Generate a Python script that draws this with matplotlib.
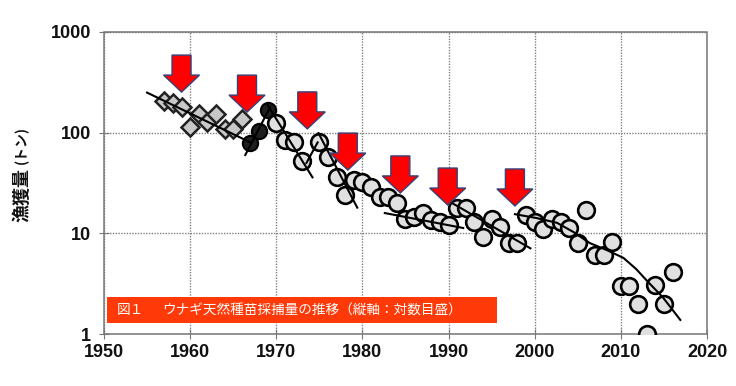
import numpy as np
import matplotlib.pyplot as plt
from matplotlib.patches import Polygon, Rectangle
from matplotlib.transforms import ScaledTranslation

# catch data (tonnes, log scale)
diamond_years = [1957, 1958, 1959, 1960, 1961, 1962, 1963, 1964, 1965, 1966]
diamond_vals = [205, 195, 180, 114, 155, 127, 155, 108, 109, 136]

filled_years = [1967, 1968, 1969]
filled_vals = [79, 104, 168]

circle_years = [1970, 1971, 1972, 1973, 1975, 1976, 1977, 1978, 1979, 1980,
                1981, 1982, 1983, 1984, 1985, 1986, 1987, 1988, 1989, 1990,
                1991, 1992, 1993, 1994, 1995, 1996, 1997, 1998, 1999, 2000,
                2001, 2002, 2003, 2004, 2005, 2006, 2007, 2008, 2009, 2010,
                2011, 2012, 2013, 2014, 2015, 2016]
circle_vals = [124, 84, 81, 52, 80, 57, 36, 24, 34, 32,
               29, 23, 23, 20, 14, 14.5, 16, 13.5, 13, 12,
               18, 18, 13, 9.2, 14, 11.5, 8, 8, 15.2, 13,
               11, 14, 13, 11.3, 8, 17, 6.1, 6.1, 8.2, 3,
               3, 2, 1.0, 3.1, 2, 4.1]

# trend lines (year, value)
trend_lines = [
    ([1955, 1967], [250, 80]),
    ([1966.4, 1969.3], [60, 180]),
    ([1969, 1974.2], [188, 36]),
    ([1973.5, 1974.8], [50, 80]),
    ([1974.9, 1979.4], [99, 18]),
    ([1982.6, 1991.7], [15.9, 11.3]),
    ([1990.4, 1999.5], [20, 7.1]),
    ([1997.7, 2000.2, 2002.6, 2004.5, 2006.4, 2008.4, 2010.3, 2011.8, 2013.0, 2014.9, 2016.9],
     [15.5, 14.2, 12.7, 10.3, 8.0, 6.8, 5.7, 4.4, 3.4, 2.3, 1.38]),
]

# red arrows: year and value at the arrow tip
arrow_years = [1959.0, 1966.6, 1973.6, 1978.3, 1984.4, 1989.9, 1997.7]
arrow_tips = [253, 160, 109, 42.5, 25.2, 19.1, 18.7]

xticks = [1950, 1960, 1970, 1980, 1990, 2000, 2010, 2020]
yticks = [1, 10, 100, 1000]
ytick_labels = ['1', '10', '100', '1000']

fig = plt.figure(figsize=(7.36, 3.86), dpi=100)
ax = fig.add_axes([0.1413, 0.1347, 0.8193, 0.7824])
ax.set_yscale('log')
ax.set_xlim(1950, 2020)
ax.set_ylim(1, 1000)

gridstyle = dict(color='#808080', linestyle=(0, (1, 1)), linewidth=1.0)
ax.grid(True, which='major', **gridstyle)
ax.grid(False, which='minor')
for s in ax.spines.values():
    s.set_color('#777777')
    s.set_linestyle((0, (1, 1)))
    s.set_linewidth(1.1)

ax.set_xticks(xticks)
ax.set_xticklabels([str(x) for x in xticks])
ax.set_yticks(yticks)
ax.set_yticklabels(ytick_labels)
ax.minorticks_off()
ax.tick_params(direction='inout', length=7, color='#777777', labelsize=13,
               labelcolor='#111111')
ax.tick_params(axis='y', pad=6)
for lab in ax.get_xticklabels() + ax.get_yticklabels():
    lab.set_family('Liberation Sans')
    lab.set_fontweight('bold')

# markers
ax.plot(diamond_years, diamond_vals, 'D', ms=9.5, mfc='#c8c8c8', mec='#222222',
        mew=1.8, zorder=3, linestyle='none')
ax.plot(filled_years, filled_vals, 'o', ms=11, mfc='#1e1e1e', mec='#000000',
        mew=1.5, zorder=3, linestyle='none')
ax.plot(circle_years, circle_vals, 'o', ms=12, mfc='#e0e0e0', mec='#000000',
        mew=1.9, zorder=3, linestyle='none')

for xs, ys in trend_lines:
    ax.plot(xs, ys, '-', color='black', linewidth=1.5, zorder=4)

# arrows, shape in pixels relative to the tip
shape = np.array([(0, 0), (-18, 17), (-9.5, 17), (-9.5, 37),
                  (9.5, 37), (9.5, 17), (18, 17)]) / 100.0
for yr, tip in zip(arrow_years, arrow_tips):
    trans = fig.dpi_scale_trans + ScaledTranslation(yr, tip, ax.transData)
    ax.add_patch(Polygon(shape, closed=True, facecolor='#ff0000',
                         edgecolor='#34427a', linewidth=1.0,
                         transform=trans, zorder=6))

# caption box
ax.add_patch(Rectangle((0.005, 0.036), 0.647, 0.087, transform=ax.transAxes,
                       facecolor='#ff3a08', edgecolor='none', zorder=5))
ax.text(0.021, 0.079, '図１', transform=ax.transAxes, color='white',
        fontsize=9.8, family=['Noto Sans CJK JP', 'DejaVu Sans'],
        va='center', ha='left', zorder=6)
ax.text(0.096, 0.079, 'ウナギ天然種苗採捕量の推移（縦軸：対数目盛）',
        transform=ax.transAxes, color='white', fontsize=9.8,
        family=['Noto Sans CJK JP', 'DejaVu Sans'], va='center', ha='left',
        zorder=6)

# y axis label: main part and small unit above it
fig.text(0.03, 0.565, '漁獲量', rotation=90, fontsize=13,
         fontweight='bold', family=['Noto Sans CJK JP', 'DejaVu Sans'],
         ha='center', va='top', color='#111111')
fig.text(0.03, 0.575, '(トン)', rotation=90, fontsize=10,
         fontweight='bold', family=['Noto Sans CJK JP', 'DejaVu Sans'],
         ha='center', va='bottom', color='#111111')

fig.savefig('out.png', dpi=100)
